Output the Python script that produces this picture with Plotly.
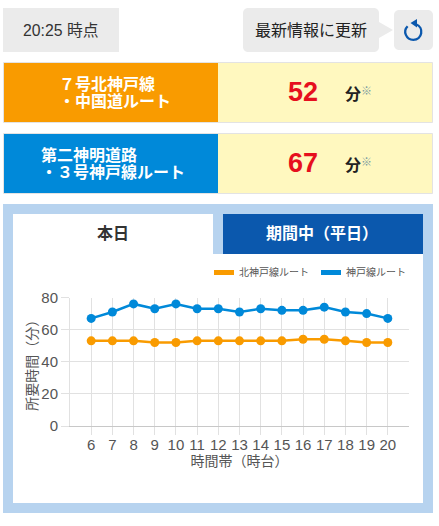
import plotly.graph_objects as go

W, H = 439, 526
FONT = "Liberation Sans, Noto Sans CJK JP, sans-serif"

hours = [str(h) for h in range(6, 21)]
kita_kobe = [53, 53, 53, 52, 52, 53, 53, 53, 53, 53, 54, 54, 53, 52, 52]
kobe = [67, 71, 76, 73, 76, 73, 73, 71, 73, 72, 72, 74, 71, 70, 67]
y_ticks = [0, 20, 40, 60, 80]

ORANGE = "#f99b00"
BLUE = "#0089d9"
GREY = "#ebebeb"
TEXT = "#333333"
AXIS = "#555555"
NOTE = "#7a9aa0"


def px(x):
    return x / W


def py(y):
    return 1 - y / H


def rect(x0, y0, x1, y1, fill, line=None, lw=1):
    return dict(type="rect", xref="paper", yref="paper", x0=px(x0), x1=px(x1), y0=py(y0), y1=py(y1),
                fillcolor=fill, line=dict(color=line or fill, width=lw if line else 0), layer="below")


def path(pts, fill=None, line=None, lw=0):
    d = ""
    for p in pts:
        d += p[0]
        coords = p[1:]
        d += " ".join(f"{(px(c) if i % 2 == 0 else py(c)):.5f}" for i, c in enumerate(coords)) + " "
    d += "Z" if fill else ""
    return dict(type="path", xref="paper", yref="paper", path=d, fillcolor=fill if fill else "rgba(0,0,0,0)",
                line=dict(color=line or "rgba(0,0,0,0)", width=lw), layer="below")


def rrect(x0, y0, x1, y1, r, fill):
    k = r * 0.45
    pts = [
        ("M", x0 + r, y0), ("L", x1 - r, y0),
        ("C", x1 - k, y0, x1, y0 + k, x1, y0 + r), ("L", x1, y1 - r),
        ("C", x1, y1 - k, x1 - k, y1, x1 - r, y1), ("L", x0 + r, y1),
        ("C", x0 + k, y1, x0, y1 - k, x0, y1 - r), ("L", x0, y0 + r),
        ("C", x0, y0 + k, x0 + k, y0, x0 + r, y0),
    ]
    return path(pts, fill)


def text(x, y, s, size, color=TEXT, bold=False, align="center", angle=0):
    if bold:
        s = f"<b>{s}</b>"
    return dict(xref="paper", yref="paper", x=px(x), y=py(y), text=s, showarrow=False,
                xanchor=align, yanchor="middle", align=align, textangle=angle,
                font=dict(family=FONT, size=size, color=color))


shapes = [
    rect(3, 8, 119, 52, GREY),
    rrect(243, 8, 379, 52, 5, GREY),
    path([("M", 379, 22), ("L", 393, 30), ("L", 379, 38)], GREY),
    rrect(394, 10, 433, 50, 5, GREY),
    # refresh icon
    path([("M", 407.6, 26.2), ("C", 402.56, 31.24, 406.17, 39.8, 413.3, 39.8),
          ("C", 422.25, 39.8, 424.45, 27.34, 416.04, 24.28)], None, "#0b58ad", 2.3),
    path([("M", 410.5, 23), ("L", 417, 19), ("L", 417, 27.5)], "#0b58ad"),
    # route rows
    rect(3.5, 62.5, 432.5, 122.5, "#fff8bf", "#e3e3e3"),
    rect(4, 63, 218, 122, ORANGE),
    rect(3.5, 133.5, 432.5, 193.5, "#fff8bf", "#e3e3e3"),
    rect(4, 134, 218, 193, BLUE),
    # chart panel
    rect(3, 204, 433, 513, "#b7d3ef"),
    rect(13, 214, 423, 503, "#ffffff"),
    rect(213, 214, 223, 254, "#b7d3ef"),
    rect(223, 214, 423, 254, "#0b58ad"),
    # legend swatches
    rect(214, 270, 234, 275, ORANGE),
    rect(321, 270, 341, 275, BLUE),
]

annotations = [
    text(61, 30, "20:25 時点", 15.8),
    text(311, 30, "最新情報に更新", 16, "#222222"),
    text(107, 84, "７号北神戸線", 16, "#ffffff", True),
    text(115, 101, "・中国道ルート", 16, "#ffffff", True),
    text(89, 155, "第二神明道路", 16, "#ffffff", True),
    text(113, 172, "・３号神戸線ルート", 16, "#ffffff", True),
    text(302.5, 92, "52", 27, "#e60f1e", True),
    text(302.5, 163, "67", 27, "#e60f1e", True),
    text(352.5, 95, "分", 16, "#222222", True),
    text(352.5, 166, "分", 16, "#222222", True),
    text(366, 91, "※", 11, NOTE),
    text(366, 162, "※", 11, NOTE),
    text(113, 233, "本日", 16, TEXT, True),
    text(322, 233, "期間中（平日）", 16, "#ffffff", True),
    text(274, 272, "北神戸線ルート", 10, AXIS),
    text(376, 272, "神戸線ルート", 10, AXIS),
]

fig = go.Figure()
for name, values, color in [("北神戸線ルート", kita_kobe, ORANGE), ("神戸線ルート", kobe, BLUE)]:
    fig.add_trace(go.Scatter(x=hours, y=values, name=name, mode="lines+markers", showlegend=False,
                             line=dict(color=color, width=2.5), marker=dict(color=color, size=9)))

fig.update_layout(
    width=W, height=H, margin=dict(l=0, r=0, t=0, b=0, autoexpand=False),
    paper_bgcolor="#ffffff", plot_bgcolor="#ffffff",
    font=dict(family=FONT, color=AXIS),
    shapes=shapes, annotations=annotations, showlegend=False,
    xaxis=dict(domain=[px(70), px(409)], type="category", range=[-1, 15], tickmode="array",
               tickvals=hours, ticktext=hours, showgrid=True, gridcolor="#e1e1e1", gridwidth=1,
               showline=True, linecolor="#c8c8c8", ticks="outside", ticklen=8, tickcolor="#e1e1e1",
               ticklabelstandoff=-3, automargin=False, tickfont=dict(size=15, color=AXIS),
               title=dict(text="時間帯（時台）", font=dict(size=14, color=AXIS), standoff=3)),
    yaxis=dict(domain=[py(426), py(297.5)], range=[0, 80], tickvals=y_ticks, showgrid=True,
               gridcolor="#e1e1e1", gridwidth=1, showline=True, linecolor="#e1e1e1", ticks="outside",
               ticklen=8, tickcolor="#e1e1e1", zeroline=False, automargin=False,
               tickfont=dict(size=15, color=AXIS),
               title=dict(text="所要時間（分）", font=dict(size=14, color=AXIS), standoff=0)),
)

fig.write_html("out.html", config=dict(displayModeBar=False),
               post_script="document.body.style.margin='0';document.documentElement.style.overflow='hidden';")
